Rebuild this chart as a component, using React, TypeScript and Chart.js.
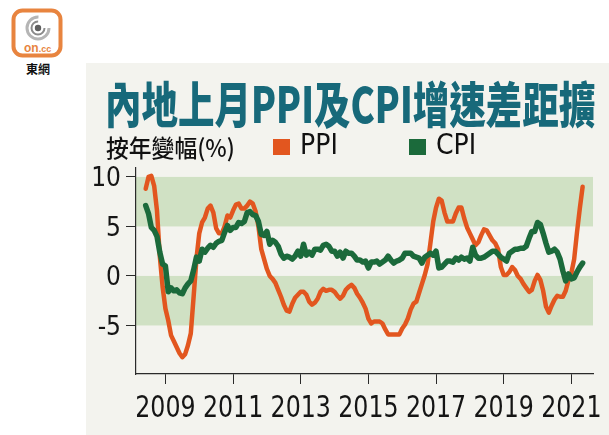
import React, { useEffect, useRef } from "react";
import { Chart, registerables } from "chart.js";

Chart.register(...registerables);

// ---- data (monthly, year-on-year %) ----
const START_YEAR = 2008;
const START_MONTH = 6; // June 2008
const ppiValues = [
  8.8, 10.0, 10.1, 9.1, 6.6, 2.0, -1.1,
  -3.3, -4.5, -6.0, -6.6, -7.2, -7.8, -8.2, -7.9, -7.0, -5.8, -2.1, 1.7,
  4.3, 5.4, 5.9, 6.8, 7.1, 6.4, 4.8, 4.3, 4.3, 5.0, 6.1, 5.9,
  6.6, 7.2, 7.3, 6.8, 6.8, 7.1, 7.5, 7.3, 6.5, 5.0, 2.7, 1.7,
  0.7, 0.0, -0.3, -0.7, -1.4, -2.1, -2.9, -3.5, -3.6, -2.8, -2.2, -1.9,
  -1.6, -1.6, -1.9, -2.6, -2.9, -2.7, -2.3, -1.6, -1.3, -1.5, -1.4, -1.4,
  -1.6, -2.0, -2.3, -2.0, -1.4, -1.1, -0.9, -1.2, -1.8, -2.2, -2.7, -3.3,
  -4.3, -4.8, -4.6, -4.6, -4.6, -4.8, -5.4, -5.9, -5.9, -5.9, -5.9, -5.9,
  -5.3, -4.9, -4.3, -3.4, -2.8, -2.6, -1.7, -0.8, 0.1, 1.2, 3.3, 5.5,
  6.9, 7.8, 7.6, 6.4, 5.5, 5.5, 5.5, 6.3, 6.9, 6.9, 5.8, 4.9,
  4.3, 3.7, 3.1, 3.4, 4.1, 4.7, 4.6, 4.1, 3.6, 3.3, 2.7, 0.9,
  0.1, 0.1, 0.4, 0.9, 0.6, 0.0, -0.3, -0.8, -1.2, -1.6, -1.4, -0.5,
  0.1, -0.4, -1.5, -3.1, -3.7, -3.0, -2.4, -2.0, -2.1, -2.1, -1.5, -0.4,
  0.3, 1.7, 4.4, 6.8, 9.0,
];
const cpiValues = [
  7.1, 6.3, 4.9, 4.6, 4.0, 2.4, 1.2,
  1.0, -1.6, -1.2, -1.5, -1.4, -1.7, -1.8, -1.2, -0.8, -0.5, 0.6, 1.9,
  1.5, 2.7, 2.4, 2.8, 3.1, 2.9, 3.3, 3.5, 3.6, 4.4, 5.1, 4.6,
  4.9, 4.9, 5.4, 5.3, 5.5, 6.4, 6.5, 6.2, 6.1, 5.5, 4.2, 4.1,
  4.5, 3.2, 3.6, 3.4, 3.0, 2.2, 1.8, 2.0, 1.9, 1.7, 2.0, 2.5,
  2.0, 3.2, 2.1, 2.4, 2.1, 2.7, 2.7, 2.6, 3.1, 3.2, 3.0, 2.5,
  2.5, 2.0, 2.4, 1.8, 2.5, 2.3, 2.3, 2.0, 1.6, 1.6, 1.4, 1.5,
  0.8, 1.4, 1.4, 1.5, 1.2, 1.4, 1.6, 2.0, 1.6, 1.3, 1.5, 1.6,
  1.8, 2.3, 2.3, 2.3, 2.0, 1.9, 1.8, 1.3, 1.9, 2.1, 2.3, 2.1,
  2.5, 0.8, 0.9, 1.2, 1.5, 1.5, 1.4, 1.8, 1.6, 1.9, 1.7, 1.8,
  1.5, 2.9, 2.1, 1.8, 1.8, 1.9, 2.1, 2.3, 2.5, 2.5, 2.2, 1.9,
  1.7, 1.5, 2.3, 2.5, 2.7, 2.7, 2.8, 2.8, 3.0, 3.8, 4.5, 4.5,
  5.4, 5.2, 4.3, 3.3, 2.4, 2.5, 2.7, 2.4, 1.7, 0.5, -0.5, 0.2,
  -0.3, -0.2, 0.4, 0.9, 1.3,
];
const xTickYears = [2009, 2011, 2013, 2015, 2017, 2019, 2021];
const yTickValues = [-5, 0, 5, 10];
const bandRanges = [
  [5, 10],
  [-5, 0],
];

// ---- styles ----
const X_MIN = 2008.13;
const X_MAX = 2021.64;
const Y_MIN = -9.9;
const Y_MAX = 10.9;
const PPI_COLOR = "#e2561f";
const CPI_COLOR = "#1b6a3b";
const BAND_COLOR = "#d0e1c4";
const PANEL_COLOR = "#f3f3ee";
const AXIS_COLOR = "#2a2a2a";
const TITLE_COLOR = "#17697a";
const NARROW = "'Liberation Sans Narrow', 'DejaVu Sans Condensed', sans-serif";

const toPoints = (vals: number[]) =>
  vals.map((v, i) => {
    const m = START_MONTH - 1 + i;
    return { x: START_YEAR + Math.floor(m / 12) + (m % 12) / 12, y: v };
  });

const bandPlugin = {
  id: "bands",
  beforeDraw(chart: any) {
    const { ctx, chartArea, scales } = chart;
    const y = scales.y;
    ctx.save();
    ctx.fillStyle = BAND_COLOR;
    for (const [lo, hi] of bandRanges) {
      const top = y.getPixelForValue(hi);
      const bot = y.getPixelForValue(lo);
      ctx.fillRect(chartArea.left, top, chartArea.right - chartArea.left, bot - top);
    }
    ctx.restore();
  },
};

const labelPlugin = {
  id: "tickLabels",
  afterDraw(chart: any) {
    const { ctx, scales } = chart;
    const x = scales.x;
    const y = scales.y;
    ctx.save();
    ctx.fillStyle = "#151515";
    ctx.textBaseline = "alphabetic";
    ctx.textAlign = "center";
    ctx.font = `31px ${NARROW}`;
    for (const t of x.ticks) {
      const px = x.getPixelForValue(t.value);
      ctx.save();
      ctx.translate(px, x.top + 43);
      ctx.scale(0.85, 1);
      ctx.fillText(String(t.value), 0, 0);
      ctx.restore();
    }
    ctx.font = `26px ${NARROW}`;
    ctx.textAlign = "right";
    for (const t of y.ticks) {
      const py = y.getPixelForValue(t.value);
      ctx.fillText(String(t.value), y.right - 15, py + 9.5);
    }
    ctx.restore();
  },
};

function Logo() {
  return (
    <svg width={75} height={80} style={{ position: "absolute", left: 0, top: 0 }}>
      <rect x={13.5} y={10.5} width={47} height={45} rx={9} fill="#fff" stroke="#e8843f" strokeWidth={4} />
      <circle cx={38} cy={28} r={11} fill="none" stroke="#b5b5b5" strokeWidth={3} strokeDasharray="52 17" />
      <circle cx={38} cy={28} r={6.5} fill="none" stroke="#8a8a8a" strokeWidth={2} strokeDasharray="30 11" />
      <circle cx={38} cy={28} r={3.2} fill="#5f5f5f" />
      <text x={24} y={52} fontFamily="'Liberation Sans', Arial, sans-serif" fontWeight={700} fill="#e8843f">
        <tspan fontSize={12}>on</tspan>
        <tspan fontSize={9}>.cc</tspan>
      </text>
      <text x={38} y={74} textAnchor="middle" fontFamily="'Noto Sans CJK TC', sans-serif" fontWeight={700} fontSize={12} fill="#111">
        東網
      </text>
    </svg>
  );
}

export default function App() {
  const canvasRef = useRef<HTMLCanvasElement | null>(null);

  useEffect(() => {
    const canvas = canvasRef.current;
    if (!canvas) return;
    const chart = new Chart(canvas, {
      type: "line",
      data: {
        datasets: [
          {
            label: "PPI",
            data: toPoints(ppiValues),
            borderColor: PPI_COLOR,
            borderWidth: 4.5,
            pointRadius: 0,
            tension: 0,
            borderJoinStyle: "round",
            borderCapStyle: "round",
            order: 1,
          },
          {
            label: "CPI",
            data: toPoints(cpiValues),
            borderColor: CPI_COLOR,
            borderWidth: 5.5,
            pointRadius: 0,
            tension: 0,
            borderJoinStyle: "round",
            borderCapStyle: "round",
            order: 0,
          },
        ],
      },
      options: {
        animation: false,
        responsive: false,
        devicePixelRatio: 1,
        layout: { padding: { left: 0, top: 168, right: 16, bottom: 0 } },
        plugins: { legend: { display: false }, tooltip: { enabled: false } },
        scales: {
          x: {
            type: "linear",
            min: X_MIN,
            max: X_MAX,
            afterBuildTicks: (s: any) => {
              s.ticks = xTickYears.map((v) => ({ value: v }));
            },
            afterFit: (s: any) => {
              s.height = 61;
            },
            ticks: { display: false },
            grid: { drawOnChartArea: false, drawTicks: true, tickLength: 10, color: AXIS_COLOR, lineWidth: 1 },
            border: { display: true, color: AXIS_COLOR, width: 1.2 },
          },
          y: {
            type: "linear",
            min: Y_MIN,
            max: Y_MAX,
            afterBuildTicks: (s: any) => {
              s.ticks = yTickValues.map((v) => ({ value: v }));
            },
            afterFit: (s: any) => {
              s.width = 136;
            },
            ticks: { display: false },
            grid: { drawOnChartArea: false, drawTicks: true, tickLength: 10, color: AXIS_COLOR, lineWidth: 1 },
            border: { display: true, color: AXIS_COLOR, width: 1.2 },
          },
        },
      },
      plugins: [bandPlugin, labelPlugin],
    } as any);
    return () => chart.destroy();
  }, []);

  return (
    <div style={{ position: "absolute", left: 0, top: 0, width: 609, height: 435, background: "#fff", overflow: "hidden" }}>
      <div style={{ position: "absolute", left: 86, top: 63, width: 523, height: 372, background: PANEL_COLOR }} />
      <Logo />
      <canvas ref={canvasRef} width={609} height={435} style={{ position: "absolute", left: 0, top: 0 }} />
      <div
        style={{
          position: "absolute",
          left: 105,
          top: 77,
          fontFamily: "'Noto Sans CJK TC', sans-serif",
          fontWeight: 900,
          fontSize: 49,
          lineHeight: "49px",
          color: TITLE_COLOR,
          whiteSpace: "nowrap",
          transform: "scaleX(0.745)",
          transformOrigin: "left top",
        }}
      >
        內地上月PPI及CPI增速差距擴
      </div>
      <div
        style={{
          position: "absolute",
          left: 106,
          top: 135,
          fontFamily: `'Liberation Sans Narrow', 'Noto Sans CJK TC', sans-serif`,
          fontSize: 24,
          fontWeight: 500,
          lineHeight: "24px",
          color: "#111",
          whiteSpace: "nowrap",
          transform: "scaleX(0.95)",
          transformOrigin: "left top",
        }}
      >
        按年變幅(%)
      </div>
      <div style={{ position: "absolute", left: 273, top: 139, width: 17, height: 16, background: PPI_COLOR }} />
      <div
        style={{ position: "absolute", left: 300, top: 131, fontFamily: NARROW, fontSize: 28, lineHeight: "28px", color: "#111", whiteSpace: "nowrap" }}
      >
        PPI
      </div>
      <div style={{ position: "absolute", left: 409, top: 139, width: 17, height: 16, background: CPI_COLOR }} />
      <div
        style={{ position: "absolute", left: 436, top: 131, fontFamily: NARROW, fontSize: 28, lineHeight: "28px", color: "#111", whiteSpace: "nowrap" }}
      >
        CPI
      </div>
    </div>
  );
}
